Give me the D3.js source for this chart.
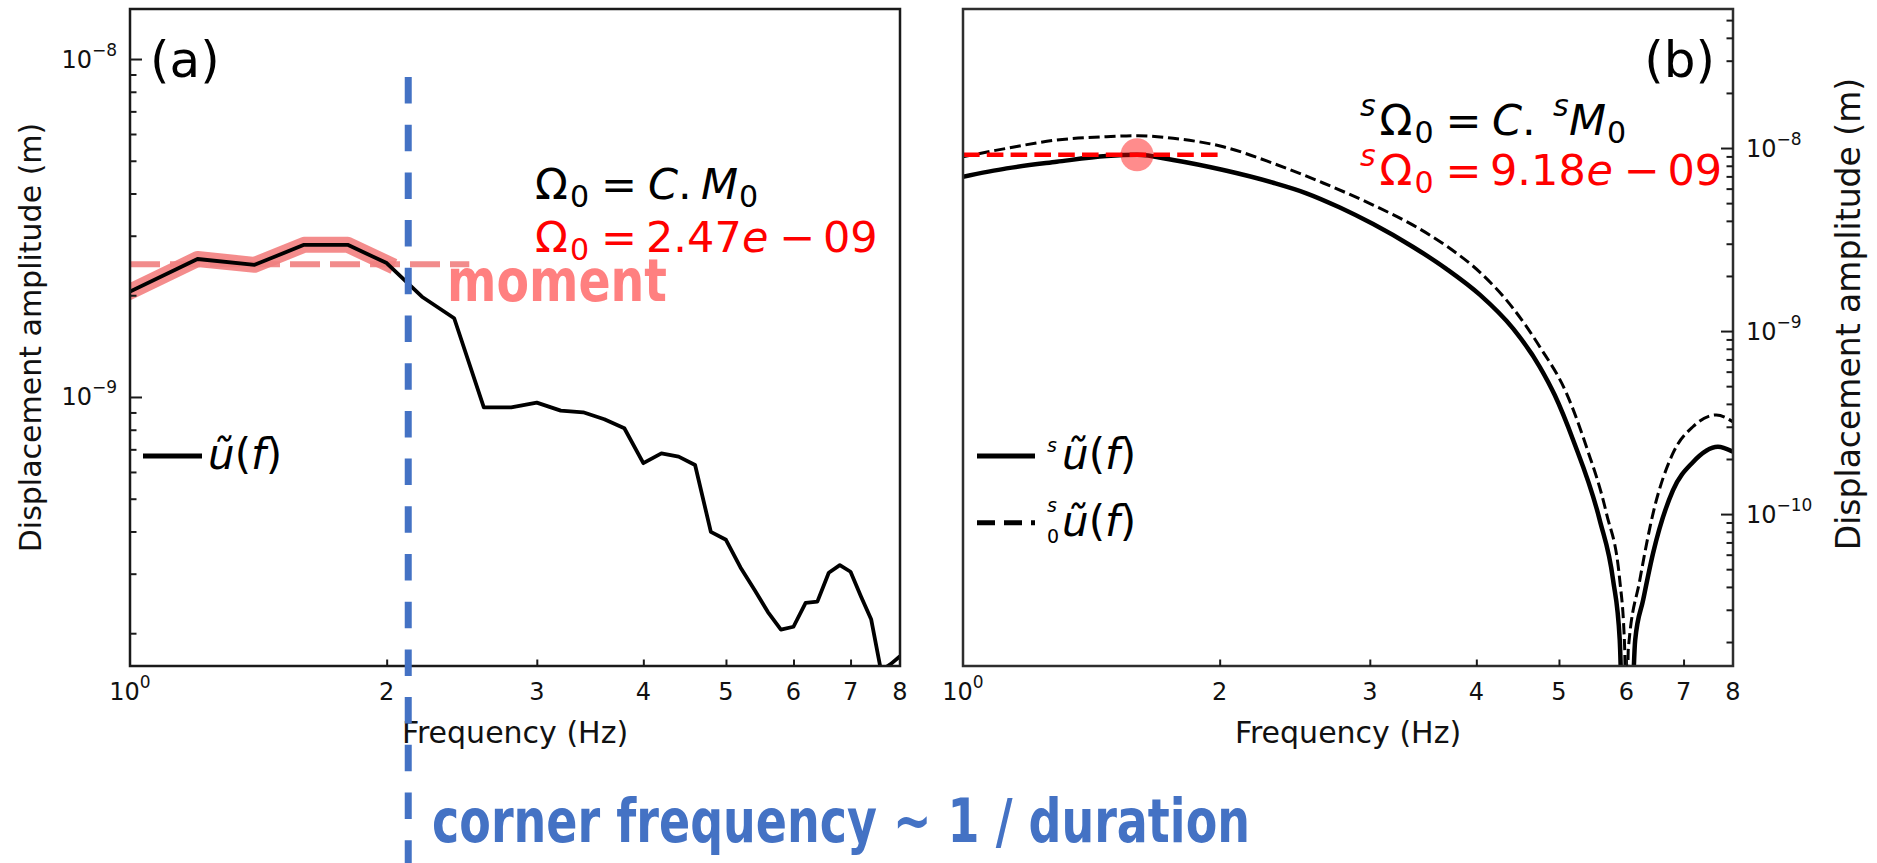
<!DOCTYPE html>
<html>
<head>
<meta charset="utf-8">
<script src="https://cdn.jsdelivr.net/npm/d3@7"></script>
<style>
  html, body { margin: 0; padding: 0; background: #fff; }
  svg { display: block; }
  text { font-family: "DejaVu Sans", sans-serif; }
</style>
</head>
<body>
<svg id="fig" width="1877" height="863"></svg>
<script>
// ---- (a) observed displacement spectrum ----
const freqA = [1.0, 1.2, 1.4, 1.6, 1.8, 2.0, 2.2, 2.4, 2.6, 2.8, 3.0, 3.2,
               3.4, 3.6, 3.8, 4.0, 4.2, 4.4, 4.6, 4.8, 5.0, 5.2, 5.4, 5.6,
               5.8, 6.0, 6.2, 6.4, 6.6, 6.8, 7.0, 7.2, 7.4, 7.6, 7.8, 8.0];
const ampA = [2.05e-9, 2.56e-9, 2.46e-9, 2.82e-9, 2.82e-9, 2.49e-9, 1.98e-9, 1.71e-9,
              9.32e-10, 9.32e-10, 9.62e-10, 9.11e-10, 9.01e-10, 8.59e-10, 8.08e-10, 6.37e-10,
              6.81e-10, 6.66e-10, 6.29e-10, 3.99e-10, 3.78e-10, 3.13e-10, 2.69e-10, 2.31e-10,
              2.05e-10, 2.09e-10, 2.46e-10, 2.48e-10, 3.02e-10, 3.18e-10, 3.04e-10, 2.57e-10,
              2.20e-10, 1.55e-10, 1.62e-10, 1.71e-10];
const plateauFitMaxA = 2.0;     // last frequency of the highlighted plateau
const plateauA = 2.47e-9;       // Omega_0
const plateauLineEndA = 2.5;
const cornerFreq = 2.12;

// ---- (b) synthetic spectra ----
const freqBs = [1.0, 1.125, 1.288, 1.474, 1.6, 1.764, 2.02, 2.311, 2.528, 2.767, 3.027,
                3.372, 3.692, 4.037, 4.418, 4.747, 4.943, 5.195, 5.582, 5.787, 5.892,
                6.0, 6.143, 6.276, 6.447, 6.803, 7.179, 7.68, 8.0];
const ampBs = [6.97e-9, 7.74e-9, 8.41e-9, 9.04e-9, 9.18e-9, 8.60e-9, 7.58e-9, 6.46e-9,
               5.66e-9, 4.73e-9, 3.84e-9, 2.88e-9, 2.18e-9, 1.58e-9, 1.03e-9, 6.38e-10,
               4.47e-10, 2.54e-10, 9.27e-11, 4.36e-11, 2.05e-11, 1e-12, 2.05e-11, 3.39e-11,
               6.12e-11, 1.35e-10, 1.92e-10, 2.33e-10, 2.19e-10];
const freqBd = [1.0, 1.125, 1.288, 1.474, 1.605, 1.764, 2.02, 2.311, 2.645, 3.027, 3.372,
                3.692, 4.037, 4.418, 4.747, 5.103, 5.385, 5.684, 5.892, 5.972, 6.0, 6.029,
                6.22, 6.447, 6.803, 7.179, 7.647, 8.0];
const ampBd = [8.96e-9, 9.96e-9, 1.106e-8, 1.153e-8, 1.168e-8, 1.130e-8, 1.016e-8, 8.25e-9,
               6.44e-9, 4.88e-9, 3.79e-9, 2.91e-9, 2.10e-9, 1.33e-9, 8.21e-10, 4.57e-10,
               2.33e-10, 1.01e-10, 4.36e-11, 1.81e-11, 1e-12, 1.81e-11, 4.36e-11, 1.01e-10,
               2.15e-10, 3.00e-10, 3.48e-10, 3.19e-10];
const plateauB = 9.18e-9;
const peakFreqB = 1.6;
const plateauLineEndB = 2.0;

// ---- axis ticks ----
const xLabelTicks = [2, 3, 4, 5, 6, 7, 8];
const xMinorTicks = [2, 3, 4, 5, 6, 7];
const yMajorA = [1e-9, 1e-8];
const yMajorB = [1e-10, 1e-9, 1e-8];

const svg = d3.select("#fig");
svg.append("rect").attr("width", 1877).attr("height", 863).attr("fill", "#fff");
const defs = svg.append("defs");

const PA = { x0: 130, x1: 900, y0: 9, y1: 666 };
const PB = { x0: 963, x1: 1733, y0: 9, y1: 666 };

const xA = d3.scaleLog().domain([1, 8]).range([PA.x0, PA.x1]);
const yA = d3.scaleLog().domain([Math.pow(10, -9.796), Math.pow(10, -7.852)]).range([PA.y1, PA.y0]);
const xB = d3.scaleLog().domain([1, 8]).range([PB.x0, PB.x1]);
const yB = d3.scaleLog().domain([Math.pow(10, -10.83), Math.pow(10, -7.2404)]).range([PB.y1, PB.y0]);

function clip(id, p) {
  defs.append("clipPath").attr("id", id).append("rect")
    .attr("x", p.x0).attr("y", p.y0).attr("width", p.x1 - p.x0).attr("height", p.y1 - p.y0);
}
clip("clipA", PA);
clip("clipB", PB);

const isDecade = v => Math.abs(Math.log10(v) - Math.round(Math.log10(v))) < 1e-6;

// math-style text: tokens with optional x, italic, sub/sup, size, offset
function mathText(parent, y, size, color, tokens) {
  const t = parent.append("text").attr("fill", color).attr("font-size", size);
  tokens.forEach(tk => {
    const small = tk.size || size * 0.7;
    let fs = size, off = 0;
    if (tk.sub) { fs = small; off = tk.off !== undefined ? tk.off : size * 0.18; }
    if (tk.sup) { fs = small; off = tk.off !== undefined ? tk.off : -size * 0.45; }
    const s = t.append("tspan").text(tk.t).attr("font-size", fs).attr("y", y + off);
    if (tk.x !== undefined) s.attr("x", tk.x);
    if (tk.it) s.attr("font-style", "italic");
  });
  return t;
}

function powLabel(parent, x, y, exp, anchor) {
  const t = parent.append("text").attr("x", x).attr("y", y)
    .attr("text-anchor", anchor).attr("font-size", 24).attr("fill", "#111");
  t.append("tspan").text("10");
  t.append("tspan").text(exp).attr("font-size", 17).attr("dy", -12);
  return t;
}

function styleTicks(g, color) {
  g.select(".domain").remove();
  g.selectAll(".tick line").attr("stroke", color).attr("stroke-width", 2);
  g.selectAll(".tick text").remove();
}

function xAxis(p, x, color) {
  const g = svg.append("g").attr("transform", `translate(0,${p.y1})`)
    .call(d3.axisBottom(x).tickValues(xMinorTicks).tickSize(-6.5).tickFormat(""));
  styleTicks(g, color);
  powLabel(svg, x(1), p.y1 + 34, "0", "middle");
  xLabelTicks.forEach(v => {
    svg.append("text").attr("x", x(v)).attr("y", p.y1 + 34)
      .attr("text-anchor", "middle").attr("font-size", 24).attr("fill", "#111").text(v);
  });
  svg.append("text").attr("x", (p.x0 + p.x1) / 2).attr("y", 743)
    .attr("text-anchor", "middle").attr("font-size", 30).attr("fill", "#111")
    .text("Frequency (Hz)");
}

// ================= panel (a) =================
const lineA = d3.line().x(d => xA(d[0])).y(d => yA(d[1]));
const ptsA = freqA.map((f, i) => [f, ampA[i]]);
const plotA = svg.append("g").attr("clip-path", "url(#clipA)");

plotA.append("path")
  .attr("d", lineA(ptsA.filter(d => d[0] <= plateauFitMaxA + 1e-9)))
  .attr("fill", "none").attr("stroke", "#f27c7c").attr("stroke-width", 16)
  .attr("stroke-linejoin", "round").attr("stroke-linecap", "square").attr("opacity", 0.88);

plotA.append("line")
  .attr("x1", xA(1)).attr("x2", xA(plateauLineEndA))
  .attr("y1", yA(plateauA)).attr("y2", yA(plateauA))
  .attr("stroke", "#f08080").attr("stroke-width", 6).attr("stroke-dasharray", "30,10")
  .attr("opacity", 0.9);

plotA.append("path").attr("d", lineA(ptsA))
  .attr("fill", "none").attr("stroke", "#000").attr("stroke-width", 3.8)
  .attr("stroke-linejoin", "round");

svg.append("rect").attr("x", PA.x0).attr("y", PA.y0)
  .attr("width", PA.x1 - PA.x0).attr("height", PA.y1 - PA.y0)
  .attr("fill", "none").attr("stroke", "#1a1a1a").attr("stroke-width", 2.5);

// left y ticks
{
  const gMaj = svg.append("g").attr("transform", `translate(${PA.x0},0)`)
    .call(d3.axisLeft(yA).tickValues(yMajorA).tickSize(-12).tickFormat(""));
  styleTicks(gMaj, "#1a1a1a");
  const gMin = svg.append("g").attr("transform", `translate(${PA.x0},0)`)
    .call(d3.axisLeft(yA).tickValues(yA.ticks().filter(v => !isDecade(v))).tickSize(-6.5).tickFormat(""));
  styleTicks(gMin, "#1a1a1a");
  yMajorA.forEach(v => powLabel(svg, PA.x0 - 13, yA(v) + 8.5, "\u2212" + Math.round(-Math.log10(v)), "end"));
}
xAxis(PA, xA, "#1a1a1a");

svg.append("text").attr("transform", `translate(41,337.5) rotate(-90)`)
  .attr("text-anchor", "middle").attr("font-size", 30).attr("fill", "#111")
  .text("Displacement amplitude (m)");

svg.append("text").attr("x", 150).attr("y", 77).attr("font-size", 50).attr("fill", "#000").text("(a)");

mathText(svg, 199, 43, "#000", [
  { x: 535, t: "\u03A9" }, { x: 570, t: "0", sub: true }, { x: 601, t: "=" },
  { x: 648, t: "C", it: true }, { x: 678, t: "." }, { x: 701, t: "M", it: true },
  { x: 739, t: "0", sub: true }
]);
mathText(svg, 252, 43, "#ff0000", [
  { x: 535, t: "\u03A9" }, { x: 570, t: "0", sub: true }, { x: 601, t: "=" },
  { x: 646, t: plateauA.toExponential(2).split("e")[0] }, { x: 742, t: "e", it: true },
  { x: 779, t: "\u2212" }, { x: 823, t: "09" }
]);

svg.append("text").attr("x", 447).attr("y", 301)
  .attr("font-family", "Lato, 'Open Sans', sans-serif").attr("font-weight", 700)
  .attr("font-size", 59).attr("fill", "#ff8080")
  .attr("textLength", 220).attr("lengthAdjust", "spacingAndGlyphs").text("moment");

// legend (a)
svg.append("line").attr("x1", 143).attr("x2", 202).attr("y1", 456).attr("y2", 456)
  .attr("stroke", "#000").attr("stroke-width", 5);
mathText(svg, 469, 42, "#000", [
  { x: 208, t: "u\u0303", it: true }, { t: "(" }, { t: "f", it: true }, { t: ")" }
]);

// corner frequency marker
svg.append("line").attr("x1", xA(cornerFreq)).attr("x2", xA(cornerFreq))
  .attr("y1", 77).attr("y2", 863)
  .attr("stroke", "#4472c4").attr("stroke-width", 7).attr("stroke-dasharray", "26.5,21.2");

svg.append("text").attr("x", 432).attr("y", 842)
  .attr("font-family", "Lato, 'Open Sans', sans-serif").attr("font-weight", 700)
  .attr("font-size", 60).attr("fill", "#4472c4")
  .attr("textLength", 818).attr("lengthAdjust", "spacingAndGlyphs")
  .text("corner frequency ~ 1 / duration");

// ================= panel (b) =================
const lineB = d3.line().x(d => xB(d[0])).y(d => yB(d[1])).curve(d3.curveMonotoneX);
const plotB = svg.append("g").attr("clip-path", "url(#clipB)");

plotB.append("path").attr("d", lineB(freqBs.map((f, i) => [f, ampBs[i]])))
  .attr("fill", "none").attr("stroke", "#000").attr("stroke-width", 4.5);
plotB.append("path").attr("d", lineB(freqBd.map((f, i) => [f, ampBd[i]])))
  .attr("fill", "none").attr("stroke", "#000").attr("stroke-width", 3)
  .attr("stroke-dasharray", "11.1,4.8");
plotB.append("line")
  .attr("x1", xB(1)).attr("x2", xB(plateauLineEndB))
  .attr("y1", yB(plateauB)).attr("y2", yB(plateauB))
  .attr("stroke", "#ff0000").attr("stroke-width", 4.5).attr("stroke-dasharray", "16.6,7.2");
plotB.append("circle").attr("cx", xB(peakFreqB)).attr("cy", yB(plateauB)).attr("r", 16.5)
  .attr("fill", "#ff0000").attr("opacity", 0.45);

svg.append("rect").attr("x", PB.x0).attr("y", PB.y0)
  .attr("width", PB.x1 - PB.x0).attr("height", PB.y1 - PB.y0)
  .attr("fill", "none").attr("stroke", "#2e2e2e").attr("stroke-width", 2.5);

{
  const gMaj = svg.append("g").attr("transform", `translate(${PB.x1},0)`)
    .call(d3.axisRight(yB).tickValues(yMajorB).tickSize(-12).tickFormat(""));
  styleTicks(gMaj, "#1a1a1a");
  const gMin = svg.append("g").attr("transform", `translate(${PB.x1},0)`)
    .call(d3.axisRight(yB).tickValues(yB.ticks().filter(v => !isDecade(v))).tickSize(-6.5).tickFormat(""));
  styleTicks(gMin, "#1a1a1a");
  yMajorB.forEach(v => powLabel(svg, PB.x1 + 13, yB(v) + 8.5, "\u2212" + Math.round(-Math.log10(v)), "start"));
}
xAxis(PB, xB, "#1a1a1a");

svg.append("text").attr("transform", `translate(1860,314) rotate(-90)`)
  .attr("text-anchor", "middle").attr("font-size", 33).attr("fill", "#111")
  .text("Displacement amplitude (m)");

svg.append("text").attr("x", 1715).attr("y", 77).attr("text-anchor", "end")
  .attr("font-size", 50).attr("fill", "#000").text("(b)");

mathText(svg, 135, 43, "#000", [
  { x: 1360, t: "s", it: true, sup: true }, { x: 1379.5, t: "\u03A9" },
  { x: 1414.5, t: "0", sub: true }, { x: 1445.5, t: "=" }, { x: 1492, t: "C", it: true },
  { x: 1522, t: "." }, { x: 1553, t: "s", it: true, sup: true },
  { x: 1569, t: "M", it: true }, { x: 1607, t: "0", sub: true }
]);
mathText(svg, 185, 43, "#ff0000", [
  { x: 1360, t: "s", it: true, sup: true }, { x: 1379.5, t: "\u03A9" },
  { x: 1414.5, t: "0", sub: true }, { x: 1445.5, t: "=" },
  { x: 1490, t: plateauB.toExponential(2).split("e")[0] }, { x: 1586.5, t: "e", it: true },
  { x: 1623.5, t: "\u2212" }, { x: 1667.5, t: "09" }
]);

// legend (b)
svg.append("line").attr("x1", 977).attr("x2", 1035).attr("y1", 456).attr("y2", 456)
  .attr("stroke", "#000").attr("stroke-width", 5);
svg.append("line").attr("x1", 977).attr("x2", 1035).attr("y1", 522.7).attr("y2", 522.7)
  .attr("stroke", "#000").attr("stroke-width", 5).attr("stroke-dasharray", "18,9");
mathText(svg, 469, 42, "#000", [
  { x: 1047, t: "s", it: true, sup: true, size: 19, off: -17 },
  { x: 1062, t: "u\u0303", it: true }, { t: "(" }, { t: "f", it: true }, { t: ")" }
]);
mathText(svg, 536, 42, "#000", [
  { x: 1047, t: "s", it: true, sup: true, size: 19, off: -24 },
  { x: 1047, t: "0", sub: true, size: 19, off: 7 },
  { x: 1062, t: "u\u0303", it: true }, { t: "(" }, { t: "f", it: true }, { t: ")" }
]);
</script>
</body>
</html>
